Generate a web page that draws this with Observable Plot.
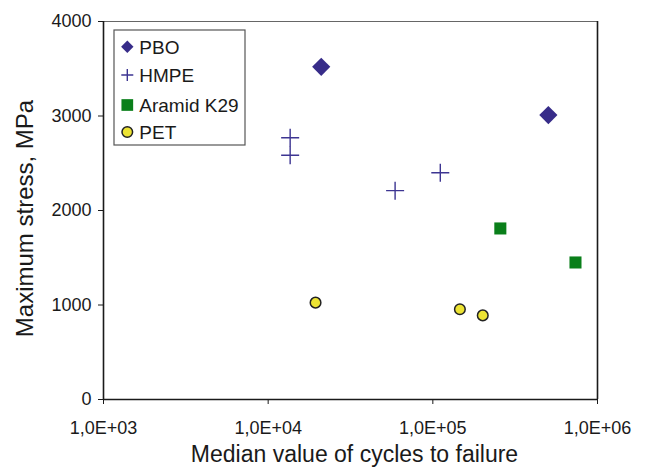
<!DOCTYPE html>
<html><head><meta charset="utf-8">
<script src="https://cdn.jsdelivr.net/npm/d3@7"></script>
<script src="https://cdn.jsdelivr.net/npm/@observablehq/plot@0.6"></script>
<style>
body{margin:0;background:#fff;}
#wrap{position:relative;width:646px;height:470px;}
</style></head><body><div id="wrap"></div>
<script>
const seriesNames = ["PBO", "HMPE", "Aramid K29", "PET"];
const pboCycles = [21000, 503000];
const pboStress = [3520, 3010];
const hmpeCycles = [13600, 13600, 59000, 111000];
const hmpeStress = [2770, 2585, 2210, 2400];
const aramidCycles = [257000, 735000];
const aramidStress = [1810, 1450];
const petCycles = [19400, 146000, 201000];
const petStress = [1025, 955, 890];
const xTicks = [1e3, 1e4, 1e5, 1e6];
const xTickLabels = ["1,0E+03", "1,0E+04", "1,0E+05", "1,0E+06"];
const yTicks = [0, 1000, 2000, 3000, 4000];
const yTickLabels = ["0", "1000", "2000", "3000", "4000"];
const xTitle = "Median value of cycles to failure";
const yTitle = "Maximum stress, MPa";

const colors = {PBO: "#372c89", HMPE: "#3d3592", "Aramid K29": "#0a7f1a", PET: "#ece333"};
const rows = (xs, ys, s) => xs.map((x, i) => ({x, y: ys[i], s}));
const pbo = rows(pboCycles, pboStress, "PBO");
const hmpe = rows(hmpeCycles, hmpeStress, "HMPE");
const aramid = rows(aramidCycles, aramidStress, "Aramid K29");
const pet = rows(petCycles, petStress, "PET");
const font = "'Liberation Sans', Arial, Helvetica, sans-serif";
const ink = "#1a1a1a";

const plot = Plot.plot({
  width: 646, height: 470,
  marginLeft: 103, marginRight: 49, marginTop: 21, marginBottom: 71,
  style: {fontFamily: font, fontSize: "18px", color: ink, background: "white"},
  x: {type: "log", domain: [1e3, 1e6]},
  y: {domain: [0, 4000]},
  marks: [
    Plot.axisX(xTicks, {tickSize: 5, tickPadding: 17, fontSize: 18, tickFormat: d => xTickLabels[xTicks.indexOf(d)], label: null}),
    Plot.axisY(yTicks, {tickSize: 5, tickPadding: 7, fontSize: 18, tickFormat: d => yTickLabels[yTicks.indexOf(d)], label: null}),
    Plot.ruleY([4000], {stroke: "#666", strokeWidth: 1.2}),
    Plot.ruleY([0], {stroke: ink, strokeWidth: 1.6}),
    Plot.ruleX([1e3, 1e6], {stroke: ink, strokeWidth: 1.6}),
    Plot.dot(pbo, {x: "x", y: "y", symbol: "diamond2", r: 8.2, fill: colors.PBO, stroke: "none"}),
    Plot.dot(hmpe, {x: "x", y: "y", symbol: "plus", r: 5.86, stroke: colors.HMPE, strokeWidth: 1.4, fill: "none"}),
    Plot.dot(aramid, {x: "x", y: "y", symbol: "square", r: 6.8, fill: colors["Aramid K29"], stroke: "none"}),
    Plot.dot(pet, {x: "x", y: "y", symbol: "circle", r: 5.3, fill: colors.PET, stroke: "#222", strokeWidth: 1.5}),
    Plot.text([xTitle], {frameAnchor: "bottom", textAnchor: "middle", lineAnchor: "middle", dx: 4, dy: 55, fontSize: 23, text: d => d}),
    Plot.text([yTitle], {frameAnchor: "left", textAnchor: "middle", lineAnchor: "middle", rotate: -90, dx: -78, dy: 8, fontSize: 24, text: d => d})
  ]
});
document.getElementById("wrap").appendChild(plot);

// legend
const legend = d3.select("#wrap").append("svg")
  .attr("width", 133).attr("height", 118)
  .style("position", "absolute").style("left", "113px").style("top", "29px");
legend.append("rect").attr("x", 1).attr("y", 1).attr("width", 131).attr("height", 115)
  .attr("fill", "white").attr("stroke", "#555").attr("stroke-width", 1.2);
const legSym = {PBO: [d3.symbolDiamond2, 98], HMPE: [d3.symbolPlus, 49], "Aramid K29": [d3.symbolSquare, 137], PET: [d3.symbolCircle, 88]};
const legY = [17.7, 46, 76, 103];
seriesNames.forEach((name, i) => {
  const g = legend.append("g").attr("transform", `translate(14.3,${legY[i]})`);
  const [type, size] = legSym[name];
  const p = g.append("path").attr("d", d3.symbol(type, size)());
  if (name === "HMPE") p.attr("fill", "none").attr("stroke", colors.HMPE).attr("stroke-width", 1.4);
  else if (name === "PET") p.attr("fill", colors.PET).attr("stroke", "#222").attr("stroke-width", 1.5);
  else p.attr("fill", colors[name]);
  g.append("text").attr("x", 12).attr("dy", "0.36em").attr("fill", ink)
    .style("font-family", font).style("font-size", "19px").text(name);
});
</script></body></html>
